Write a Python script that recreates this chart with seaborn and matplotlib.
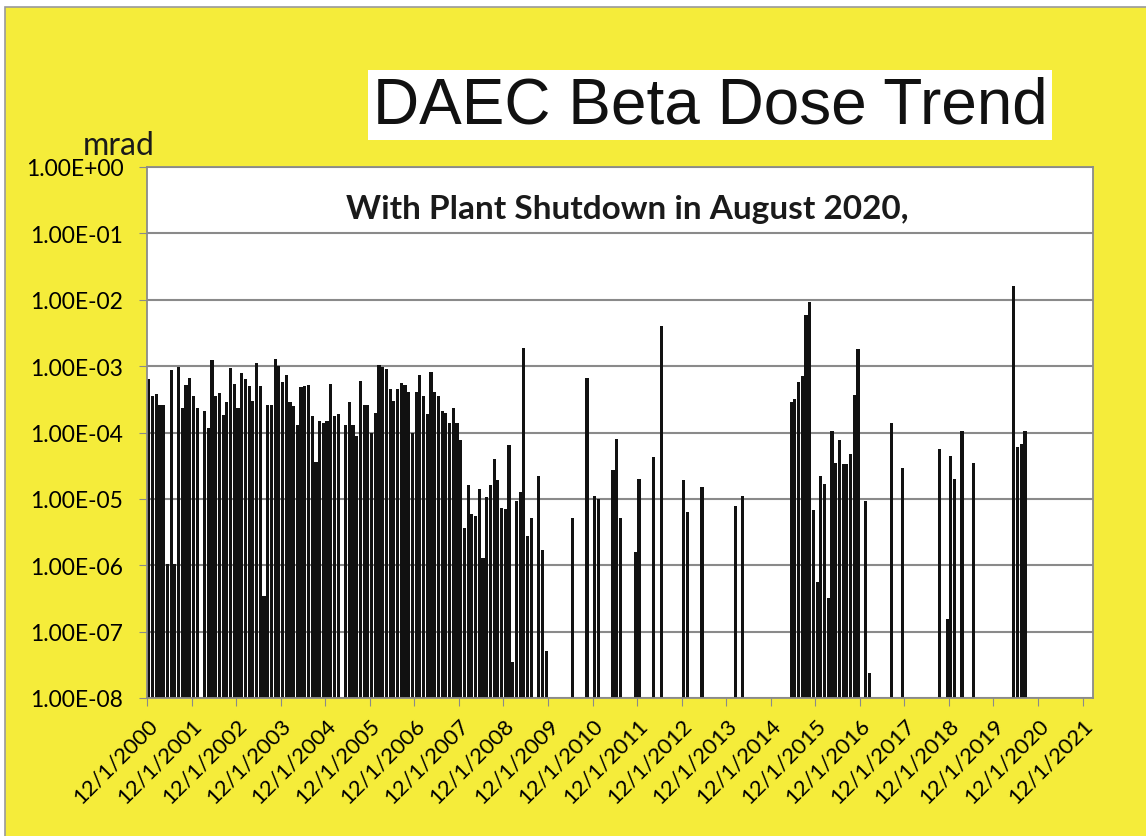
import numpy as np
import pandas as pd
import matplotlib
matplotlib.use("Agg")
import matplotlib.pyplot as plt
import seaborn as sns
from matplotlib.patches import Rectangle
from matplotlib.ticker import FuncFormatter, FixedLocator, NullLocator

#=============================================================================
# Data: monthly beta dose in mrad
#=============================================================================

# continuous record, Dec 2000 .. Nov 2009 (None = no reading that month)
dense_start = "2000-12"
dense_dose = [
    6.4e-4, 3.5e-4, 3.8e-4, 2.6e-4, 2.6e-4, 1.05e-6, 8.6e-4, 1.05e-6, 9.8e-4, 2.3e-4, 5.2e-4, 6.6e-4,
    3.6e-4, 2.3e-4, None, 2.1e-4, 1.15e-4, 1.22e-3, 3.5e-4, 3.9e-4, 1.85e-4, 2.9e-4, 9.4e-4, 5.4e-4,
    2.3e-4, 7.9e-4, 6.4e-4, 5.1e-4, 3.0e-4, 1.12e-3, 5.1e-4, 3.5e-7, 2.6e-4, 2.6e-4, 1.29e-3, 1.0e-3,
    5.7e-4, 7.4e-4, 2.9e-4, 2.5e-4, 1.3e-4, 4.8e-4, 5.0e-4, 5.2e-4, 1.8e-4, 3.6e-5, 1.5e-4, 1.4e-4,
    1.5e-4, 5.4e-4, 1.8e-4, 1.9e-4, None, 1.3e-4, 2.9e-4, 1.3e-4, 8.9e-5, 6.0e-4, 2.6e-4, 2.6e-4,
    1.0e-4, 2.0e-4, 1.05e-3, 9.7e-4, 9.1e-4, 4.6e-4, 3.0e-4, 4.6e-4, 5.6e-4, 5.2e-4, 4.1e-4, 1.0e-4,
    4.1e-4, 7.4e-4, 3.5e-4, 1.9e-4, 8.1e-4, 4.1e-4, 3.5e-4, 2.1e-4, 2.0e-4, 1.4e-4, 2.3e-4, 1.4e-4,
    7.8e-5, 3.7e-6, 1.6e-5, 5.9e-6, 5.6e-6, 1.4e-5, 1.3e-6, 1.07e-5, 1.6e-5, 4.0e-5, 1.9e-5, 7.2e-6,
    7.1e-6, 6.5e-5, 3.5e-8, 9.3e-6, 1.26e-5, 1.9e-3, 2.8e-6, 5.2e-6, None, 2.2e-5, 1.7e-6, 5.1e-8,
]

# scattered readings after 2009
sparse_months = [
    "2010-06", "2010-10", "2010-12", "2011-01", "2011-05", "2011-06", "2011-07", "2011-11",
    "2011-12", "2012-04", "2012-06", "2012-12", "2013-01", "2013-05", "2014-02", "2014-04",
    "2015-05", "2015-06", "2015-07", "2015-08", "2015-09", "2015-10", "2015-11", "2015-12",
    "2016-01", "2016-02", "2016-03", "2016-04", "2016-05", "2016-06", "2016-07", "2016-08",
    "2016-09", "2016-10", "2016-11", "2017-01", "2017-02", "2017-08", "2017-11", "2018-09",
    "2018-11", "2018-12", "2019-01", "2019-03", "2019-06", "2020-05", "2020-06", "2020-07",
    "2020-08",
]
sparse_dose = [
    5.1e-6, 6.6e-4, 1.1e-5, 1.0e-5, 2.7e-5, 7.9e-5, 5.1e-6, 1.6e-6,
    2.0e-5, 4.3e-5, 4.0e-3, 1.9e-5, 6.3e-6, 1.5e-5, 7.9e-6, 1.1e-5,
    2.9e-4, 3.2e-4, 5.7e-4, 7.2e-4, 5.9e-3, 9.4e-3, 6.9e-6, 5.5e-7,
    2.2e-5, 1.7e-5, 3.2e-7, 1.07e-4, 3.5e-5, 7.6e-5, 3.4e-5, 3.4e-5,
    4.8e-5, 3.7e-4, 1.8e-3, 9.3e-6, 2.4e-8, 1.4e-4, 2.9e-5, 5.6e-5,
    1.55e-7, 4.4e-5, 2.0e-5, 1.07e-4, 3.5e-5, 1.6e-2, 6.0e-5, 6.8e-5,
    1.05e-4,
]

tick_years = list(range(2000, 2022))
y_decades = [1e-8, 1e-7, 1e-6, 1e-5, 1e-4, 1e-3, 1e-2, 1e-1, 1e0]

#=============================================================================
# Build the monthly table
#=============================================================================
all_months = [str(p) for p in pd.period_range("2000-12", "2021-12", freq="M")]
dense_months = [str(p) for p in pd.period_range(dense_start, periods=len(dense_dose), freq="M")]

dose_map = {m: v for m, v in zip(dense_months, dense_dose) if v is not None}
dose_map.update(dict(zip(sparse_months, sparse_dose)))

df = pd.DataFrame({"month": list(dose_map.keys()), "dose": list(dose_map.values())})

#=============================================================================
# Plot
#=============================================================================
plt.rcParams["font.family"] = ["Lato", "DejaVu Sans"]

fig = plt.figure(figsize=(11.46, 8.37), dpi=100)
fig.patch.set_facecolor("white")
# yellow slide background (behind the axes)
bg = Rectangle((5 / 1146, -0.01), 1.0, 1 - 8 / 837 + 0.01,
               transform=fig.transFigure, facecolor="#F5EC3A",
               edgecolor="#9a9a9a", linewidth=1.2, zorder=-10)
fig.add_artist(bg)

ax = fig.add_axes([147 / 1146, 1 - 699 / 837, (1093 - 147) / 1146, (699 - 168) / 837])
ax.set_zorder(1)
ax.set_facecolor("white")

sns.barplot(
    data=df,
    x="month",
    y="dose",
    order=all_months,
    color="#111111",
    saturation=1,
    width=0.85,
    linewidth=0,
    errorbar=None,
    ax=ax,
)

ax.set_yscale("log")
ax.set_ylim(1e-8, 1)
ax.yaxis.set_major_locator(FixedLocator(y_decades))
ax.yaxis.set_minor_locator(NullLocator())
ax.yaxis.set_major_formatter(FuncFormatter(lambda v, _: f"{v:.2E}"))

tick_pos = [all_months.index(f"{y}-12") - 0.5 for y in tick_years]
ax.set_xticks(tick_pos)
ax.set_xticklabels([f"12/1/{y}" for y in tick_years], rotation=45, ha="right",
                   rotation_mode="anchor", fontsize=16)
ax.set_xlim(-0.5, len(all_months) + 1.3)

ax.tick_params(axis="y", labelsize=16.5, length=6, color="#8a8a8a", pad=11)
ax.tick_params(axis="x", length=6, color="#8a8a8a", pad=6)
ax.set_xlabel("")
ax.set_ylabel("")

ax.yaxis.grid(True, color="#8a8a8a", linewidth=1.5)
ax.set_axisbelow(True)
for side in ["left", "bottom", "top", "right"]:
    ax.spines[side].set_color("#8a8a8a")
    ax.spines[side].set_linewidth(1.3)

ax.text(0.508, 0.921, "With Plant Shutdown in August 2020,", transform=ax.transAxes,
        ha="center", va="center", fontsize=24, fontweight="bold", color="#1a1a1a")

fig.text(119 / 1146, 1 - 146 / 837, "mrad", ha="center", va="center", fontsize=23, color="#1a1a1a")

fig.text(710 / 1146, 1 - 106 / 837, "DAEC Beta Dose Trend", ha="center", va="center",
         fontsize=46, family=["Liberation Sans", "DejaVu Sans"], color="#111111",
         bbox=dict(facecolor="white", edgecolor="none", boxstyle="square,pad=0.08"))

fig.savefig("out.png", dpi=100, facecolor=fig.get_facecolor())
